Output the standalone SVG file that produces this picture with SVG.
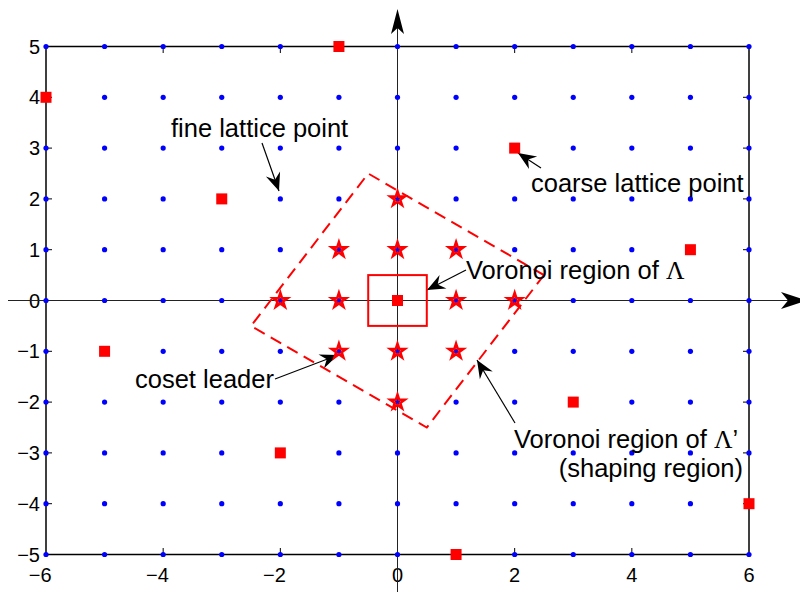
<svg xmlns="http://www.w3.org/2000/svg" xmlns:xlink="http://www.w3.org/1999/xlink" width="800" height="592" viewBox="0 0 800 592">
<style>
.lbl{font-family:"Liberation Sans",Arial,sans-serif;font-size:25.5px;fill:#000}
.tick{font-family:"Liberation Sans",Arial,sans-serif;font-size:20px;fill:#000}
.gr{font-family:"Liberation Serif","Times New Roman",serif}
.ann{stroke:#000;stroke-width:1.2;fill:none;marker-end:url(#ah)}
.star{fill:none;stroke:#ff0000;stroke-width:2.6;stroke-linejoin:miter}
</style>
<defs>
<marker id="ah" markerUnits="userSpaceOnUse" orient="auto" refX="0" refY="0" markerWidth="24" markerHeight="24" overflow="visible">
<path d="M0,0 L-18,-7.5 L-12,0 L-18,7.5 Z" fill="#000"/>
</marker>
<circle id="dot" r="2.6" fill="#0000ff"/>
<rect id="sq" x="-5.5" y="-5.5" width="11" height="11" fill="#ff0000"/>
<path id="st" class="star" d="M0,-7.5 L1.69,-2.32 L7.13,-2.32 L2.73,0.89 L4.41,6.07 L0,2.87 L-4.41,6.07 L-2.73,0.89 L-7.13,-2.32 L-1.69,-2.32 Z"/>
<g id="row">
<use href="#dot" x="46"/><use href="#dot" x="104.58"/><use href="#dot" x="163.17"/><use href="#dot" x="221.75"/><use href="#dot" x="280.33"/><use href="#dot" x="338.92"/><use href="#dot" x="397.5"/><use href="#dot" x="456.08"/><use href="#dot" x="514.67"/><use href="#dot" x="573.25"/><use href="#dot" x="631.83"/><use href="#dot" x="690.42"/><use href="#dot" x="749"/>
</g>
</defs>
<rect width="800" height="592" fill="#fff"/>

<g id="axes-frame">
<rect x="46" y="46.5" width="703" height="508" fill="none" stroke="#000" stroke-width="1.5"/>
<path d="M163.17,46.5V53M280.33,46.5V53M397.5,46.5V53M514.67,46.5V53M631.83,46.5V53M163.17,554.5V548M280.33,554.5V548M514.67,554.5V548M631.83,554.5V548M46,97.3H52M46,148.1H52M46,198.9H52M46,249.7H52M46,351.3H52M46,402.1H52M46,452.9H52M46,503.7H52M749,97.3H743M749,148.1H743M749,198.9H743M749,249.7H743M749,351.3H743M749,402.1H743M749,452.9H743M749,503.7H743" stroke="#000" stroke-width="1"/>
</g>

<g id="tick-labels" class="tick">
<text x="40" y="53.5" text-anchor="end">5</text>
<text x="40" y="104.3" text-anchor="end">4</text>
<text x="40" y="155.1" text-anchor="end">3</text>
<text x="40" y="205.9" text-anchor="end">2</text>
<text x="40" y="256.7" text-anchor="end">1</text>
<text x="40" y="307.5" text-anchor="end">0</text>
<text x="40" y="358.3" text-anchor="end">−1</text>
<text x="40" y="409.1" text-anchor="end">−2</text>
<text x="40" y="459.9" text-anchor="end">−3</text>
<text x="40" y="510.7" text-anchor="end">−4</text>
<text x="40" y="561.5" text-anchor="end">−5</text>
<text x="51.6" y="582" text-anchor="end">−6</text>
<text x="168.8" y="582" text-anchor="end">−4</text>
<text x="285.9" y="582" text-anchor="end">−2</text>
<text x="397.5" y="582" text-anchor="middle">0</text>
<text x="514.67" y="582" text-anchor="middle">2</text>
<text x="631.83" y="582" text-anchor="middle">4</text>
<text x="749" y="582" text-anchor="middle">6</text>
</g>

<g id="connectors">
<line x1="397.5" y1="592" x2="397.5" y2="22" stroke="#222" stroke-width="1"/>
<line x1="8" y1="300.5" x2="792" y2="300.5" stroke="#222" stroke-width="1"/>
<polygon points="397.5,9 391,34 397.5,28 404,34" fill="#000"/>
<polygon points="807,300.5 781,292 788,300.5 781,309" fill="#000"/>
<line class="ann" x1="262" y1="143" x2="279" y2="191"/>
<line class="ann" x1="541" y1="168" x2="518" y2="153"/>
<line class="ann" x1="466" y1="270" x2="427" y2="290"/>
<line class="ann" x1="275" y1="379" x2="338" y2="355"/>
<line class="ann" x1="515" y1="423" x2="477" y2="360"/>
</g>

<g id="shaping-region">
<polygon points="543.96,275.1 368.21,173.5 251.04,325.9 426.79,427.5" fill="none" stroke="#ff0000" stroke-width="2" stroke-dasharray="12 7"/>
</g>
<g id="fine-voronoi">
<rect x="368.21" y="275.1" width="58.58" height="50.8" fill="none" stroke="#ff0000" stroke-width="2"/>
</g>

<g id="fine-lattice">
<use href="#row" y="46.5"/><use href="#row" y="97.3"/><use href="#row" y="148.1"/><use href="#row" y="198.9"/><use href="#row" y="249.7"/><use href="#row" y="300.5"/><use href="#row" y="351.3"/><use href="#row" y="402.1"/><use href="#row" y="452.9"/><use href="#row" y="503.7"/><use href="#row" y="554.5"/>
</g>

<g id="coset-leaders">
<use href="#st" x="397.5" y="198.9"/>
<use href="#st" x="338.92" y="249.7"/><use href="#st" x="397.5" y="249.7"/><use href="#st" x="456.08" y="249.7"/>
<use href="#st" x="280.33" y="300.5"/><use href="#st" x="338.92" y="300.5"/><use href="#st" x="456.08" y="300.5"/><use href="#st" x="514.67" y="300.5"/>
<use href="#st" x="338.92" y="351.3"/><use href="#st" x="397.5" y="351.3"/><use href="#st" x="456.08" y="351.3"/>
<use href="#st" x="397.5" y="402.1"/>
</g>

<g id="coarse-lattice">
<use href="#sq" x="338.92" y="46.5"/>
<use href="#sq" x="46" y="97.3"/>
<use href="#sq" x="514.67" y="148.1"/>
<use href="#sq" x="221.75" y="198.9"/>
<use href="#sq" x="690.42" y="249.7"/>
<use href="#sq" x="397.5" y="300.5"/>
<use href="#sq" x="104.58" y="351.3"/>
<use href="#sq" x="573.25" y="402.1"/>
<use href="#sq" x="280.33" y="452.9"/>
<use href="#sq" x="749" y="503.7"/>
<use href="#sq" x="456.08" y="554.5"/>
</g>

<g id="label-fine"><text class="lbl" x="171" y="137">fine lattice point</text></g>
<g id="label-coarse"><text class="lbl" x="531" y="192">coarse lattice point</text></g>
<g id="label-voronoi-fine"><text class="lbl" x="466" y="279">Voronoi region of <tspan class="gr">Λ</tspan></text></g>
<g id="label-coset"><text class="lbl" x="135" y="388">coset leader</text></g>
<g id="label-voronoi-coarse">
<text class="lbl" x="514" y="448">Voronoi region of <tspan class="gr">Λ</tspan>’</text>
<text class="lbl" x="743" y="477" text-anchor="end">(shaping region)</text>
</g>
</svg>
